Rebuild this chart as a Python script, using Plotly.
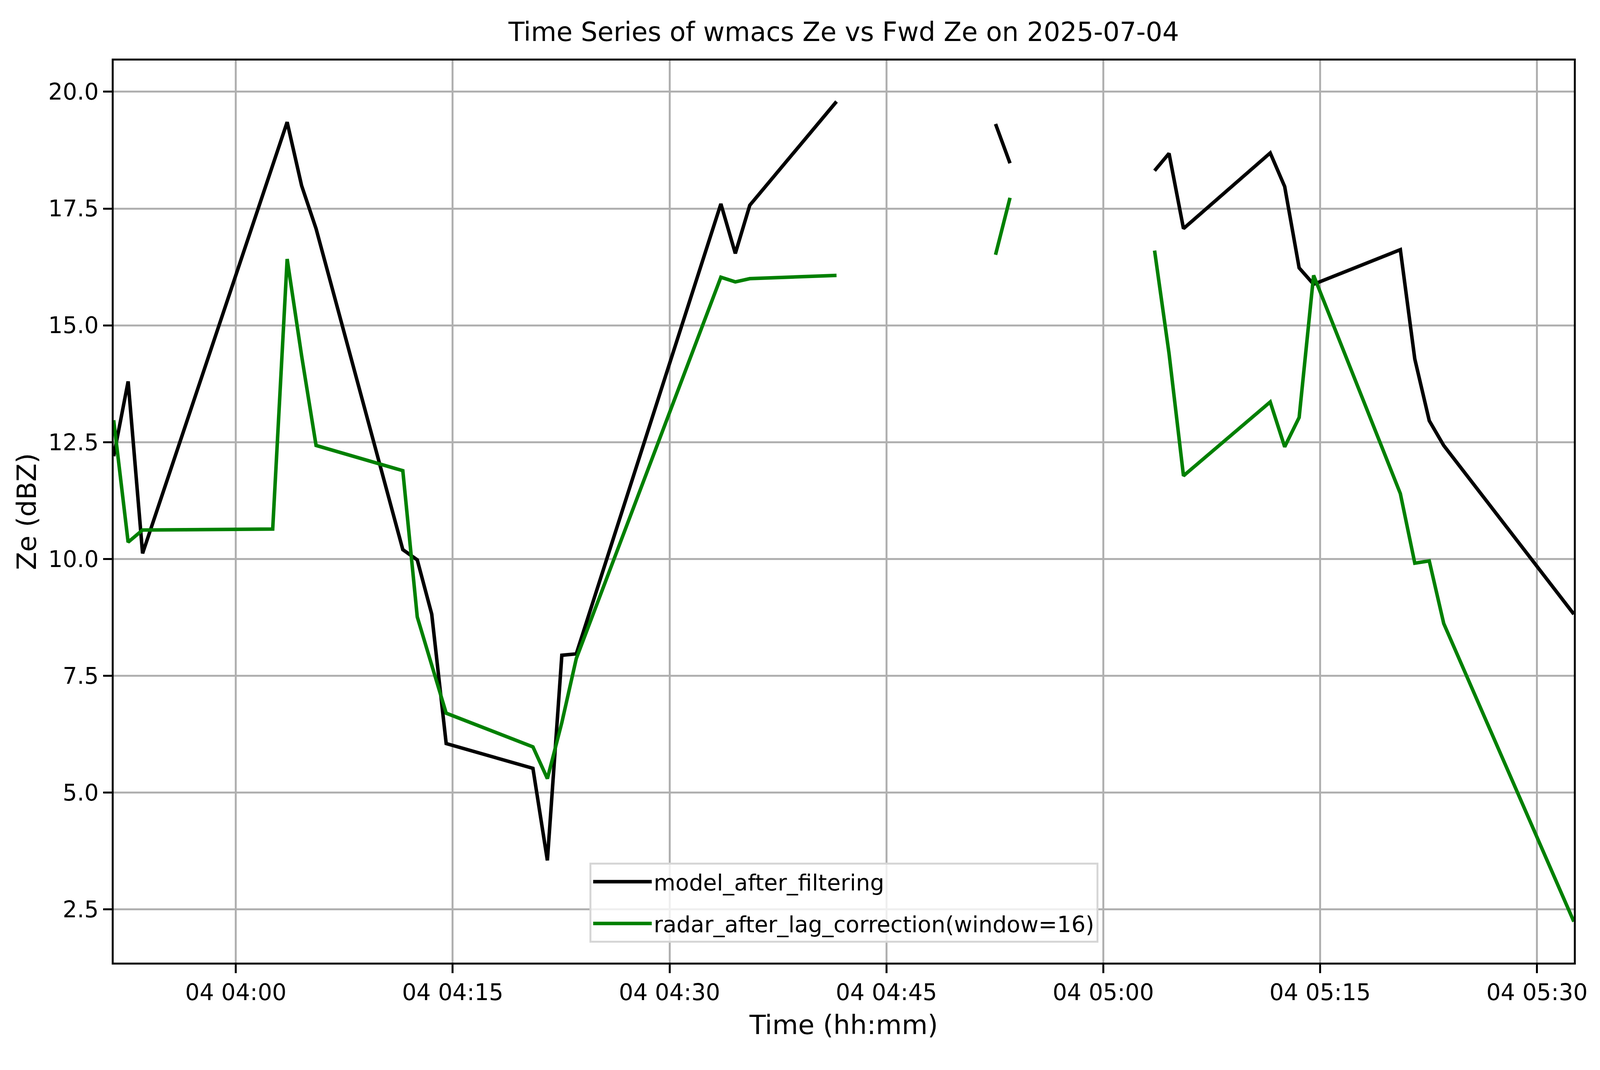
import pandas as pd
import plotly.graph_objects as go

# minutes after the first sample, None marks a gap in the record
start_time = "2025-07-04 03:51:33"
minutes = [0, 1, 2, 11, 12, 13, 14, 20, 21, 22, 23, 29, 30, 31, 32, 42, 43, 44, 50,
           51, 61, 62, 63, 72, 73, 74, 80, 81, 82, 83, 89, 90, 91, 92, 101]

model_ze = [12.2, 13.8, 10.12, 18.4, 19.35, 17.99, 17.07, 10.2, 9.98, 8.82, 6.05,
            5.52, 3.55, 7.94, 7.97, 17.6, 16.54, 17.57, 19.79,
            None, 19.31, 18.47, None,
            18.31, 18.68, 17.07, 18.69, 17.97, 16.23, 15.88, 16.62, 14.28, 12.96,
            12.43, 8.82]

radar_ze = [12.97, 10.36, 10.62, 10.64, 16.42, 14.35, 12.43, 11.89, 8.76, 7.72, 6.70,
            5.98, 5.30, 6.5, 7.87, 16.03, 15.93, 16.0, 16.07,
            None, 16.51, 17.73, None,
            16.6, 14.4, 11.78, 13.36, 12.40, 13.03, 16.07, 11.40, 9.91, 9.96,
            8.62, 2.24]

times = pd.Timestamp(start_time) + pd.to_timedelta(minutes, unit="min")

font = "DejaVu Sans"
W, H = 4096, 2740  # the browser viewport

fig = go.Figure()
fig.add_trace(go.Scatter(x=times, y=model_ze, mode="lines", name="model_after_filtering",
                         legendgroup="model",
                         line=dict(color="black", width=9), connectgaps=False))
fig.add_trace(go.Scatter(x=times, y=radar_ze, mode="lines",
                         name="radar_after_lag_correction(window=16)",
                         legendgroup="radar",
                         line=dict(color="green", width=9), connectgaps=False))

# matplotlib style autoscale: 5% padding in y, tight in x
vals = [v for v in model_ze + radar_ze if v is not None]
pad = (max(vals) - min(vals)) * 0.05

axis_style = dict(
    showline=True, linecolor="black", linewidth=4.5, mirror=True,
    ticks="outside", ticklen=22, tickwidth=4.5, tickcolor="black",
    showgrid=True, gridcolor="#b0b0b0", gridwidth=4.5,
    zeroline=False,
    tickfont=dict(family=font, size=58, color="black"),
)

fig.update_layout(
    width=W, height=H,
    margin=dict(l=291, r=67, t=155, b=275),
    paper_bgcolor="white", plot_bgcolor="white",
    font=dict(family=font, color="black"),
    title=dict(text="Time Series of wmacs Ze vs Fwd Ze on 2025-07-04",
               x=0.5, xref="paper", xanchor="center",
               y=1 - 82 / H, yref="container", yanchor="middle",
               font=dict(family=font, size=67, color="black")),
    xaxis=dict(axis_style, range=[times.min(), times.max()],
               tickformat="%d %H:%M", tick0="2025-07-04 04:00", dtick=15 * 60 * 1000,
               title=dict(text="Time (hh:mm)", font=dict(family=font, size=68), standoff=28)),
    yaxis=dict(axis_style, range=[min(vals) - pad, max(vals) + pad],
               tick0=0, dtick=2.5, tickformat=".1f",
               title=dict(text="Ze (dBZ)", font=dict(family=font, size=68), standoff=10)),
    legend=dict(x=0.5, xanchor="center", y=0.022, yanchor="bottom",
                bgcolor="rgba(255,255,255,0.8)", bordercolor="#d6d6d6", borderwidth=5,
                tracegroupgap=30, itemwidth=150,
                font=dict(family=font, size=57, color="black")),
    showlegend=True,
)

# drop the page's default body margin so the figure fills the window exactly
fig.write_html("out.html", config={"displayModeBar": False},
               post_script="document.body.style.margin='0';")
